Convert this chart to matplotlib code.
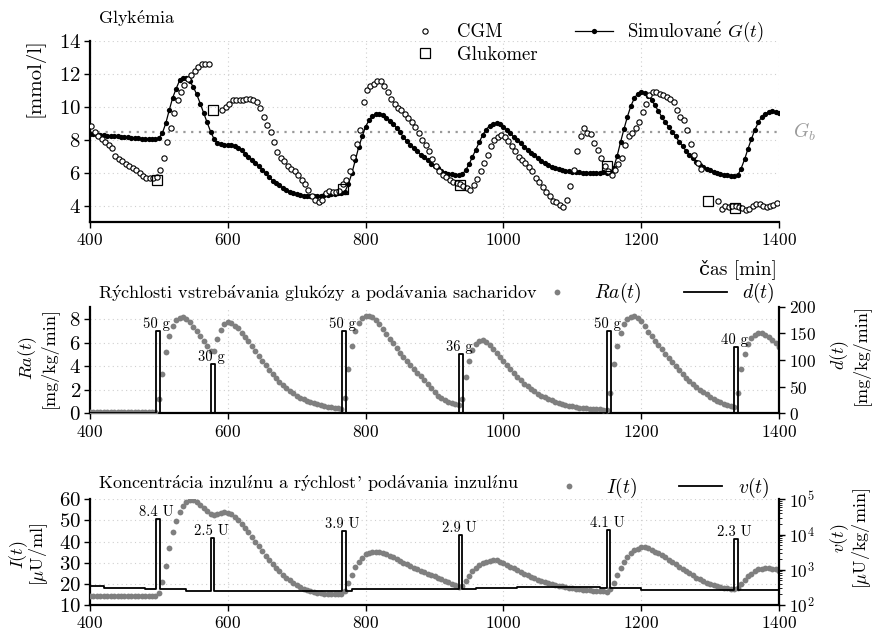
import numpy as np
import matplotlib
matplotlib.use('Agg')
import matplotlib.pyplot as plt
import matplotlib.transforms as mtransforms
from matplotlib.ticker import LogLocator, NullFormatter
from matplotlib.lines import Line2D

plt.rcParams['font.family'] = ['cmr10', 'DejaVu Serif']
plt.rcParams['mathtext.fontset'] = 'cm'
plt.rcParams['axes.formatter.use_mathtext'] = True
plt.rcParams['axes.unicode_minus'] = False

# ---------------- data ----------------
# simulated glucose G(t), every 5 min from 400 to 1400
g_sim = [
    8.37, 8.34, 8.31, 8.29, 8.27, 8.25, 8.23, 8.21, 8.2, 8.18,        # 400
    8.16, 8.14, 8.12, 8.1, 8.09, 8.07, 8.06, 8.05, 8.04, 8.03,        # 450
    8.1, 8.4, 9.0, 9.8, 10.55, 11.1, 11.6, 11.78, 11.78, 11.55,       # 500
    11.2, 10.75, 10.2, 9.62, 9.05, 8.5, 8.05, 7.8, 7.72, 7.7,         # 550
    7.68, 7.66, 7.6, 7.5, 7.35, 7.15, 6.97, 6.78, 6.58, 6.38,         # 600
    6.18, 5.95, 5.72, 5.52, 5.36, 5.22, 5.08, 4.96, 4.85, 4.77,       # 650
    4.7, 4.64, 4.6, 4.58, 4.57, 4.57, 4.58, 4.6, 4.62, 4.65,          # 700
    4.68, 4.71, 4.74, 4.78, 4.85, 5.3, 5.95, 6.75, 7.55, 8.2,         # 750
    8.8, 9.18, 9.42, 9.55, 9.58, 9.52, 9.35, 9.15, 8.95, 8.72,        # 800
    8.45, 8.15, 7.9, 7.68, 7.48, 7.3, 7.1, 6.92, 6.75, 6.55,          # 850
    6.42, 6.28, 6.1, 6.0, 5.93, 5.89, 5.86, 5.83, 5.9, 6.13,          # 900
    6.5, 6.95, 7.4, 7.85, 8.3, 8.62, 8.85, 8.97, 9.01, 8.96,          # 950
    8.8, 8.6, 8.38, 8.17, 7.97, 7.78, 7.58, 7.4, 7.22, 7.05,          # 1000
    6.88, 6.73, 6.6, 6.48, 6.37, 6.29, 6.23, 6.17, 6.12, 6.09,        # 1050
    6.06, 6.04, 6.03, 6.0, 5.99, 5.99, 5.99, 6.0, 6.0, 6.01,          # 1100
    6.0, 6.02, 6.3, 7.0, 7.85, 8.65, 9.4, 10.05, 10.52, 10.8,         # 1150
    10.9, 10.86, 10.68, 10.4, 10.1, 9.73, 9.38, 9.07, 8.75, 8.5,      # 1200
    8.2, 7.88, 7.6, 7.33, 7.1, 6.88, 6.67, 6.48, 6.33, 6.22,          # 1250
    6.13, 6.05, 5.98, 5.93, 5.88, 5.85, 5.82, 5.79, 5.83, 6.25,       # 1300
    6.8, 7.45, 8.05, 8.6, 9.05, 9.4, 9.58, 9.68, 9.72, 9.68,          # 1350
    9.6,                                                              # 1400
]
g_sim_t = np.arange(400, 400 + 5 * len(g_sim), 5)

nan = np.nan
# CGM readings every 5 min starting at 402
cgm = [
    8.83, 8.5, 8.25, 8.02, 7.85, 7.69, 7.5, 7.04, 6.8, 6.68,          # 402
    6.54, 6.43, 6.3, 6.15, 5.97, 5.8, 5.7, 5.66, 5.66, 5.72,          # 452
    6.17, 6.88, 7.85, 8.7, 9.65, 10.4, 10.9, 11.35, 11.68, 11.95,     # 502
    12.2, 12.45, 12.6, 12.62, 12.62, nan, nan, nan, 9.8, 9.98,        # 552
    10.19, 10.39, 10.4, 10.4, 10.4, 10.48, 10.5, 10.42, 10.3, 9.92,   # 602
    9.37, 8.87, 8.46, 7.85, 7.24, 6.88, 6.68, 6.43, 6.23, 6.07,       # 652
    5.87, 5.58, 5.3, 4.95, 4.6, 4.35, 4.2, 4.36, 4.77, 4.9,           # 702
    4.82, 4.8, 4.9, 5.3, 5.56, 6.1, 6.95, 7.75, 8.6, 10.3,            # 752
    11.0, 11.26, 11.4, 11.59, 11.59, 11.26, 10.9, 10.5, 10.19, 9.92,  # 802
    9.82, 9.58, 9.31, 9.07, 8.8, 8.4, 7.96, 7.7, 7.29, 6.8,           # 852
    6.4, 6.07, 5.85, 5.72, 5.58, 5.46, 5.36, 5.3, 5.16, 5.05,         # 902
    4.97, 5.25, 5.6, 6.1, 6.6, 7.1, 7.61, 7.96, 8.16, 8.3,            # 952
    8.16, 7.9, 7.61, 7.29, 6.94, 6.74, 6.6, 6.33, 6.09, 5.66,         # 1002
    5.42, 5.12, 4.81, 4.57, 4.3, 4.2, 4.04, 3.9, 4.36, 5.2,           # 1052
    6.18, 7.29, 8.2, 8.71, 8.38, 8.32, 7.79, 7.35, 6.9, 6.4,          # 1102
    6.1, 5.88, 6.13, 6.5, 6.9, 7.69, 8.2, 8.38, 8.7, 9.1,             # 1152
    9.7, 10.2, 10.7, 10.9, 10.9, 10.8, 10.7, 10.6, 10.5, 10.3,        # 1202
    9.78, 9.38, 9.2, 8.6, 7.76, 7.08, 6.6, 6.2, nan, nan,             # 1252
    nan, nan, 4.26, 3.76, 3.96, 3.9, 3.96, 3.96, 3.92, 3.84,          # 1302
    3.72, 3.8, 3.96, 4.1, 4.1, 4.0, 3.9, 3.98, 4.05, 4.18,            # 1352
]
cgm_t = np.arange(402, 402 + 5 * len(cgm), 5)

gluko_t = [497, 578, 767, 937, 1150, 1297, 1336]
gluko = [5.58, 9.78, 5.0, 5.26, 6.4, 4.26, 3.86]
g_basal = 8.5

# glucose rate of appearance Ra(t), every 5 min from 400
ra = [
    0.12, 0.12, 0.12, 0.12, 0.12, 0.12, 0.12, 0.12, 0.12, 0.12,       # 400
    0.12, 0.12, 0.12, 0.12, 0.12, 0.12, 0.12, 0.12, 0.12, 0.12,       # 450
    1.2, 3.3, 5.2, 6.6, 7.45, 7.9, 8.12, 8.17, 8.0, 7.72,             # 500
    7.35, 7.0, 6.58, 6.15, 5.7, 5.3, 5.3, 6.35, 7.1, 7.55,            # 550
    7.72, 7.68, 7.45, 7.2, 6.85, 6.48, 6.1, 5.68, 5.27, 4.86,         # 600
    4.43, 4.06, 3.68, 3.33, 2.97, 2.66, 2.37, 2.12, 1.9, 1.7,         # 650
    1.5, 1.34, 1.19, 1.06, 0.94, 0.84, 0.75, 0.68, 0.61, 0.56,        # 700
    0.51, 0.47, 0.43, 0.4, 1.3, 3.8, 5.75, 6.95, 7.68, 8.05,          # 750
    8.25, 8.3, 8.2, 7.95, 7.58, 7.12, 6.73, 6.33, 5.93, 5.55,         # 800
    5.15, 4.78, 4.42, 4.1, 3.76, 3.44, 3.15, 2.84, 2.5, 2.15,         # 850
    1.8, 1.5, 1.3, 1.13, 0.98, 0.86, 0.76, 0.68, 1.2, 3.1,            # 900
    4.45, 5.35, 5.88, 6.13, 6.2, 6.06, 5.78, 5.48, 5.15, 4.77,        # 950
    4.45, 4.1, 3.73, 3.43, 3.09, 2.8, 2.52, 2.28, 2.07, 1.87,         # 1000
    1.67, 1.5, 1.35, 1.22, 1.1, 1.0, 0.9, 0.81, 0.73, 0.66,           # 1050
    0.58, 0.53, 0.49, 0.45, 0.41, 0.39, 0.37, 0.35, 0.33, 0.31,       # 1100
    0.3, 1.75, 4.2, 5.75, 6.85, 7.62, 7.98, 8.2, 8.25, 8.08,          # 1150
    7.8, 7.38, 6.92, 6.53, 6.13, 5.78, 5.42, 5.05, 4.67, 4.32,        # 1200
    4.0, 3.67, 3.35, 3.03, 2.72, 2.45, 2.24, 2.02, 1.83, 1.62,        # 1250
    1.42, 1.24, 1.07, 0.95, 0.83, 0.71, 0.61, 0.56, 1.75, 3.75,       # 1300
    5.0, 5.85, 6.38, 6.67, 6.8, 6.78, 6.65, 6.47, 6.25, 5.95,         # 1350
    5.62,                                                             # 1400
]
ra_t = np.arange(400, 400 + 5 * len(ra), 5)

meal_t = [496, 576, 766, 936, 1151, 1335]
meal_d = [155, 93, 155, 112, 155, 124]
meal_lbl = ['50 g', '30 g', '50 g', '36 g', '50 g', '40 g']
meal_len = 5

# plasma insulin I(t), every 5 min from 400
ins = [
    14.2, 14.2, 14.2, 14.2, 14.2, 14.25, 14.25, 14.25, 14.25, 14.3,   # 400
    14.3, 14.3, 14.3, 14.3, 14.3, 14.3, 14.35, 14.35, 14.35, 14.4,    # 450
    15.5, 21.0, 28.5, 37.0, 44.3, 49.9, 53.8, 56.8, 58.9, 59.8,       # 500
    59.8, 58.9, 57.5, 55.9, 54.3, 53.2, 52.8, 53.1, 53.6, 53.8,       # 550
    53.5, 53.0, 51.8, 50.2, 48.3, 46.4, 44.3, 42.4, 40.0, 37.8,       # 600
    35.6, 33.3, 31.3, 29.4, 27.6, 25.9, 24.4, 23.0, 21.7, 20.5,       # 650
    19.5, 18.6, 17.8, 17.0, 16.4, 16.0, 15.7, 15.5, 15.4, 15.3,       # 700
    15.2, 15.2, 15.2, 15.3, 16.5, 20.5, 24.4, 27.8, 30.3, 32.3,       # 750
    33.9, 34.8, 35.2, 35.3, 35.0, 34.5, 34.0, 33.3, 32.5, 31.7,       # 800
    30.8, 30.0, 29.2, 28.4, 27.6, 26.8, 26.1, 25.4, 24.8, 24.3,       # 850
    23.8, 23.0, 22.3, 21.5, 20.8, 20.0, 19.3, 18.7, 18.9, 21.2,       # 900
    23.9, 26.0, 27.6, 28.7, 29.8, 30.5, 31.0, 31.3, 31.1, 30.5,       # 950
    29.7, 28.9, 28.1, 27.3, 26.5, 25.7, 24.9, 24.1, 23.3, 22.6,       # 1000
    21.9, 21.3, 20.8, 20.3, 19.9, 19.6, 19.2, 18.9, 18.5, 18.2,       # 1050
    17.9, 17.7, 17.5, 17.3, 17.1, 16.9, 16.8, 16.6, 16.5, 16.4,       # 1100
    16.3, 17.5, 20.5, 24.0, 27.3, 30.3, 32.9, 34.5, 35.8, 36.7,       # 1150
    37.2, 37.2, 36.8, 36.1, 35.3, 34.5, 33.5, 32.5, 31.4, 30.3,       # 1200
    29.2, 28.1, 27.0, 26.0, 25.0, 24.0, 23.0, 22.1, 21.3, 20.5,       # 1250
    19.9, 19.4, 19.0, 18.6, 18.2, 17.9, 17.6, 17.4, 18.0, 20.0,       # 1300
    22.0, 23.6, 24.9, 26.0, 26.8, 27.2, 27.3, 27.3, 27.1, 26.8,       # 1350
    26.3,                                                             # 1400
]
ins_t = np.arange(400, 400 + 5 * len(ins), 5)

# insulin administration v(t): basal steps and boluses
basal_t = [400, 420, 480, 540, 780, 960, 1020, 1140, 1200, 1400]
basal_v = [350, 310, 280, 250, 280, 310, 330, 300, 270, 270]
bolus_t = [496, 575, 766, 935, 1150, 1335]
bolus_v = [27000, 8100, 12600, 9400, 13200, 7400]
bolus_lbl = ['8.4 U', '2.5 U', '3.9 U', '2.9 U', '4.1 U', '2.3 U']
bolus_len = 5

# texts (accents via mathtext so that they stay in Computer Modern)
T_GLY = r'Glyk$\acute{\mathrm{e}}$mia'
T_SIM = r'Simulovan$\acute{\mathrm{e}}$ $G(t)$'
T_CAS = 'čas [min]'
T_RA = (r'R$\acute{\mathrm{y}}$chlosti vstreb$\acute{\mathrm{a}}$vania '
        r'gluk$\acute{\mathrm{o}}$zy a pod$\acute{\mathrm{a}}$vania sacharidov')
T_INS = (r'Koncentr$\acute{\mathrm{a}}$cia inzul$\acute{\imath}$nu a '
         r"r$\acute{\mathrm{y}}$chlost' pod$\acute{\mathrm{a}}$vania inzul$\acute{\imath}$nu")


# ---------------- helpers ----------------
def basal_at(t):
    val = basal_v[0]
    for bt, bv in zip(basal_t, basal_v):
        if t >= bt:
            val = bv
    return val


def v_steps():
    pts = sorted(set(basal_t + bolus_t + [b + bolus_len for b in bolus_t]))
    vals = []
    for p in pts:
        v = basal_at(p)
        for bt, bv in zip(bolus_t, bolus_v):
            if bt <= p < bt + bolus_len:
                v = bv
        vals.append(v)
    return pts, vals


def d_steps():
    xs, ys = [400], [0]
    for mt, md in zip(meal_t, meal_d):
        xs += [mt, mt, mt + meal_len, mt + meal_len]
        ys += [0, md, md, 0]
    xs.append(1400)
    ys.append(0)
    return xs, ys


XT_FS = 12.5
YT_FS = 15
GRID_KW = dict(color='#cfcfcf', linestyle=(0, (1, 3)), linewidth=0.8)
GRAY = '#7f7f7f'


def style_axis(ax):
    for s in ['top', 'right']:
        ax.spines[s].set_visible(False)
    for s in ['left', 'bottom']:
        ax.spines[s].set_linewidth(1.6)
    ax.tick_params(direction='out', length=4, width=1)
    ax.tick_params(axis='x', labelsize=XT_FS)
    ax.tick_params(axis='y', labelsize=YT_FS, pad=2.5)
    ax.set_xlim(400, 1400)
    ax.set_xticks(range(400, 1401, 200))
    ax.grid(True, **GRID_KW)
    ax.set_axisbelow(True)


def style_twin(ax):
    for s in ['top', 'left', 'bottom']:
        ax.spines[s].set_visible(False)
    ax.spines['right'].set_linewidth(1.6)
    ax.tick_params(direction='out', length=4, width=1, labelsize=XT_FS)


W, H = 873, 636
fig = plt.figure(figsize=(W / 100, H / 100), dpi=100)
L = 90 / W
AW = 689 / W
MS = 3.8

# ---------------- top panel ----------------
ax1 = fig.add_axes([L, 1 - 222 / H, AW, 181 / H])
style_axis(ax1)
ax1.set_ylim(3, 14)
ax1.set_yticks(range(4, 15, 2))
ax1.axhline(g_basal, color='#9a9a9a', linestyle=(0, (1, 2.5)), linewidth=1.6, zorder=1)
ax1.plot(g_sim_t, g_sim, color='black', lw=0.9, marker='o', ms=MS,
         markerfacecolor='black', markeredgewidth=0, zorder=3)
ax1.plot(cgm_t, cgm, linestyle='none', marker='o', ms=MS, markerfacecolor='white',
         markeredgecolor='black', markeredgewidth=0.8, zorder=4)
ax1.plot(gluko_t, gluko, linestyle='none', marker='s', ms=7.5, markerfacecolor='none',
         markeredgecolor='black', markeredgewidth=0.9, zorder=5)
trans1 = mtransforms.blended_transform_factory(ax1.transAxes, ax1.transData)
ax1.text(1.02, g_basal, r'$G_b$', transform=trans1, color='#9a9a9a',
         fontsize=14, va='center', ha='left')
ax1.text(0.011, 1.125, T_GLY, transform=ax1.transAxes, fontsize=13,
         ha='left', va='center')
ax1.set_ylabel('[mmol/l]', fontsize=15)
ax1.yaxis.set_label_coords(-0.066, 0.80)
ax1.text(0.997, -0.262, T_CAS, transform=ax1.transAxes, fontsize=14,
         ha='right', va='center')
h_cgm = Line2D([], [], linestyle='none', marker='o', ms=MS, markerfacecolor='white',
               markeredgecolor='black', markeredgewidth=0.8)
h_glu = Line2D([], [], linestyle='none', marker='s', ms=7.5, markerfacecolor='none',
               markeredgecolor='black', markeredgewidth=0.9)
h_sim = Line2D([], [], color='black', lw=0.9, marker='o', ms=MS, markeredgewidth=0)
ax1.legend([h_cgm, h_glu, h_sim], ['CGM', 'Glukomer', T_SIM],
           ncol=2, frameon=False, fontsize=13.5, loc='center',
           bbox_to_anchor=(0.718, 0.995), handlelength=2.0, columnspacing=2.0,
           handletextpad=0.75, labelspacing=0.25, borderpad=0)

# ---------------- middle panel ----------------
ax2 = fig.add_axes([L, 1 - 413.3 / H, AW, 106.6 / H])
style_axis(ax2)
ax2.set_ylim(0, 9.05)
ax2.set_yticks(range(0, 9, 2))
ax2.plot(ra_t, ra, linestyle='none', marker='o', ms=4.2, color=GRAY,
         markeredgewidth=0, zorder=3)
ax2r = ax2.twinx()
style_twin(ax2r)
ax2r.set_ylim(0, 200)
ax2r.set_yticks(range(0, 201, 50))
dx, dy = d_steps()
ax2r.plot(dx, dy, color='black', lw=1.3, zorder=4)
for mt, md, lbl in zip(meal_t, meal_d, meal_lbl):
    ax2r.annotate(lbl, (mt + meal_len / 2, md), xytext=(-1, 0), textcoords='offset points',
                  ha='center', va='bottom', fontsize=10.5)
ax2.text(0.011, 1.125, T_RA, transform=ax2.transAxes, fontsize=13, ha='left', va='center')
ax2.set_ylabel('$Ra(t)$\n[mg/kg/min]', fontsize=13, linespacing=0.95)
ax2.yaxis.set_label_coords(-0.047, 0.52)
ax2r.set_ylabel('$d(t)$\n[mg/kg/min]', fontsize=13, linespacing=0.95)
ax2r.yaxis.set_label_coords(1.072, 0.55)
h_ra = Line2D([], [], linestyle='none', marker='o', ms=4.2, color=GRAY, markeredgewidth=0)
h_d = Line2D([], [], color='black', lw=1.3)
ax2r.legend([h_ra, h_d], ['$Ra(t)$', '$d(t)$'], ncol=2, frameon=False, fontsize=14,
            loc='center', bbox_to_anchor=(0.82, 1.125), handlelength=2.2,
            columnspacing=2.2, handletextpad=0.8, borderpad=0)

# ---------------- bottom panel ----------------
ax3 = fig.add_axes([L, 1 - 605 / H, AW, 105.7 / H])
style_axis(ax3)
ax3.set_ylim(10, 60)
ax3.set_yticks(range(10, 61, 10))
ax3.plot(ins_t, ins, linestyle='none', marker='o', ms=4.2, color=GRAY,
         markeredgewidth=0, zorder=3)
ax3r = ax3.twinx()
style_twin(ax3r)
ax3r.set_yscale('log')
ax3r.set_ylim(1e2, 1e5)
ax3r.yaxis.set_major_locator(LogLocator(base=10, numticks=10))
ax3r.yaxis.set_minor_locator(LogLocator(base=10, subs=np.arange(2, 10), numticks=20))
ax3r.yaxis.set_minor_formatter(NullFormatter())
ax3r.tick_params(which='minor', direction='out', length=2.5, width=0.6)
vx, vy = v_steps()
ax3r.step(vx, vy, where='post', color='black', lw=1.3, zorder=4)
for bt, bv, lbl in zip(bolus_t, bolus_v, bolus_lbl):
    ax3r.annotate(lbl, (bt + bolus_len / 2, bv), xytext=(-1, 0), textcoords='offset points',
                  ha='center', va='bottom', fontsize=10.5)
ax3.text(0.011, 1.15, T_INS, transform=ax3.transAxes, fontsize=13, ha='left', va='center')
ax3.set_ylabel('$I(t)$\n[$\\mu$U/ml]', fontsize=13, linespacing=0.85)
ax3.yaxis.set_label_coords(-0.058, 0.48)
ax3r.set_ylabel('$v(t)$\n[$\\mu$U/kg/min]', fontsize=13, linespacing=0.95)
ax3r.yaxis.set_label_coords(1.071, 0.63)
h_i = Line2D([], [], linestyle='none', marker='o', ms=4.2, color=GRAY, markeredgewidth=0)
h_v = Line2D([], [], color='black', lw=1.3)
ax3r.legend([h_i, h_v], ['$I(t)$', '$v(t)$'], ncol=2, frameon=False, fontsize=14,
            loc='center', bbox_to_anchor=(0.825, 1.107), handlelength=2.2,
            columnspacing=2.2, handletextpad=0.8, borderpad=0)

fig.savefig('out.png', dpi=100)
